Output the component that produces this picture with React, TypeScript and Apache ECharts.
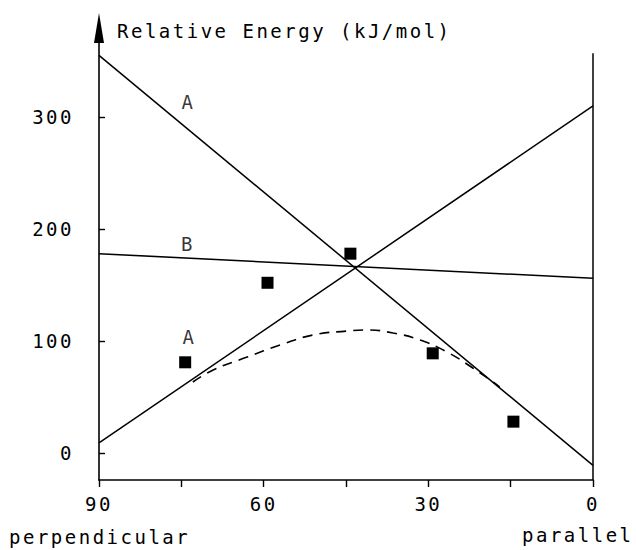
import React, { useEffect, useRef } from "react";
import * as echarts from "echarts";

// Torsion angle (deg) → relative energy (kJ/mol)
const lineAFalling: number[][] = [[90, 355], [0, -11]];
const lineARising: number[][] = [[90, 9], [0, 310]];
const lineB: number[][] = [[90, 178], [0, 156]];
const parallelEdge: number[][] = [[0, -24.1], [0, 357]];
const measuredPoints: number[][] = [[74.3, 81], [59.3, 152], [44.2, 178], [29.2, 89], [14.5, 28]];
const dashedCurve: number[][] = [
  [72.9, 63.4], [69.2, 74.1], [63.0, 85.7], [57.0, 96.4], [51.0, 105.4], [44.8, 108.9],
  [41.2, 109.8], [36.4, 107.1], [31.5, 100.9], [26.6, 90.2], [21.9, 75.9], [18.2, 63.4], [17.0, 58.9],
];
const curveLabelNames: string[] = ["A", "B", "A"];
const curveLabelPositions: number[][] = [[73.7, 313], [73.8, 187], [73.5, 104]];
const xTickLabels: number[] = [90, 60, 30, 0];
const yTickLabels: number[] = [0, 100, 200, 300];

const FONT = "DejaVu Sans Mono";
const INK = "#000";

export default function App() {
  const ref = useRef<HTMLDivElement>(null);
  useEffect(() => {
    if (!ref.current) return;
    const chart = echarts.init(ref.current, null, { renderer: "svg" });
    const lineStyle = { color: INK, width: 1.5, opacity: 1 };
    chart.setOption({
      animation: false,
      backgroundColor: "#fff",
      title: {
        text: "Relative Energy (kJ/mol)",
        left: 117,
        top: 21,
        padding: 0,
        textStyle: { fontFamily: FONT, fontSize: 19, fontWeight: "normal", color: INK },
      },
      graphic: [
        {
          type: "text",
          left: 9,
          top: 527,
          style: { text: "perpendicular", font: `19px "${FONT}"`, fill: INK },
        },
        {
          type: "text",
          left: 522,
          top: 525,
          style: { text: "parallel", font: `19px "${FONT}"`, fill: INK },
        },
      ],
      grid: { left: 99, right: 43, top: 28, bottom: 70, containLabel: false },
      xAxis: {
        type: "value",
        min: 0,
        max: 90,
        interval: 15,
        inverse: true,
        splitLine: { show: false },
        axisLine: { onZero: false, lineStyle: { color: INK, width: 1.6 } },
        axisTick: { show: true, inside: false, length: 7, lineStyle: { color: INK, width: 1.4 } },
        axisLabel: {
          margin: 14,
          fontFamily: FONT,
          fontSize: 19,
          color: INK,
          formatter: (v: number) => (xTickLabels.includes(v) ? String(v) : ""),
        },
      },
      yAxis: {
        type: "value",
        min: -24.1,
        max: 379.5,
        splitLine: { show: false },
        axisLine: {
          onZero: false,
          symbol: ["none", "triangle"],
          symbolSize: [10, 30],
          lineStyle: { color: INK, width: 1.6 },
        },
        axisTick: { show: true, inside: true, length: 6, lineStyle: { color: INK, width: 1.4 } },
        axisLabel: {
          margin: 25,
          fontFamily: FONT,
          fontSize: 19,
          color: INK,
          showMinLabel: false,
          showMaxLabel: false,
          formatter: (v: number) => (yTickLabels.includes(v) ? String(v) : ""),
        },
      },
      series: [
        { type: "line", data: lineAFalling, symbol: "none", lineStyle, silent: true },
        { type: "line", data: lineARising, symbol: "none", lineStyle, silent: true },
        { type: "line", data: lineB, symbol: "none", lineStyle, silent: true },
        { type: "line", data: parallelEdge, symbol: "none", lineStyle, silent: true },
        {
          type: "line",
          data: dashedCurve,
          symbol: "none",
          smooth: 0.5,
          lineStyle: { color: INK, width: 1.6, type: [10, 7], opacity: 1 },
          silent: true,
        },
        {
          type: "scatter",
          data: measuredPoints,
          symbol: "rect",
          symbolSize: 12,
          itemStyle: { color: INK, opacity: 1 },
          silent: true,
        },
        {
          type: "scatter",
          data: curveLabelNames.map((n, i) => ({ name: n, value: curveLabelPositions[i] })),
          symbolSize: 1,
          itemStyle: { color: "rgba(0,0,0,0)" },
          label: {
            show: true,
            position: "inside",
            formatter: (p: any) => p.name,
            fontFamily: FONT,
            fontSize: 19,
            color: INK,
          },
          silent: true,
        },
      ],
    });
    return () => chart.dispose();
  }, []);
  return (
    <div
      ref={ref}
      style={{
        position: "fixed",
        left: 0,
        top: 0,
        width: 636,
        height: 550,
        letterSpacing: "2.5px",
        background: "#fff",
      }}
    />
  );
}
